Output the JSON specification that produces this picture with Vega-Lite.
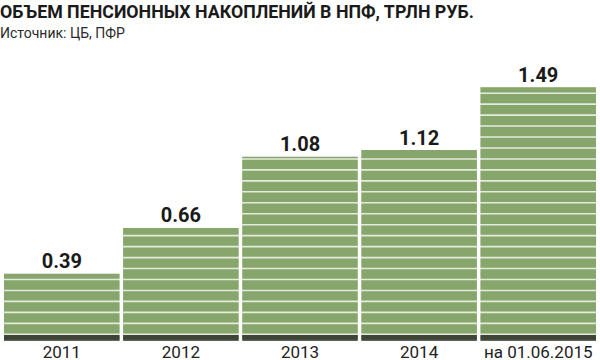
{
  "$schema": "https://vega.github.io/schema/vega-lite/v6.json",
  "width": 592,
  "height": 281,
  "autosize": {"type": "none"},
  "padding": {"left": 4, "top": 60, "right": 4, "bottom": 19},
  "background": "white",
  "title": {
    "text": "ОБЪЕМ ПЕНСИОННЫХ НАКОПЛЕНИЙ В НПФ, ТРЛН РУБ.",
    "subtitle": "Источник: ЦБ, ПФР",
    "anchor": "start",
    "frame": "group",
    "dx": -4,
    "dy": 29,
    "offset": 18,
    "font": "Roboto",
    "fontSize": 17.8,
    "fontWeight": "bold",
    "color": "#1a1a1a",
    "subtitleFont": "Roboto",
    "subtitleFontSize": 14,
    "subtitleColor": "#2a2a2a",
    "subtitlePadding": 5
  },
  "config": {"view": {"stroke": null}},
  "data": {
    "values": [
      {"period": "2011", "value": 0.39},
      {"period": "2012", "value": 0.66},
      {"period": "2013", "value": 1.08},
      {"period": "2014", "value": 1.12},
      {"period": "на 01.06.2015", "value": 1.49}
    ]
  },
  "encoding": {
    "x": {
      "field": "period",
      "type": "nominal",
      "sort": null,
      "scale": {"paddingInner": 0.03, "paddingOuter": 0},
      "axis": {
        "title": null,
        "domain": false,
        "ticks": false,
        "labelAngle": 0,
        "labelFont": "Roboto",
        "labelFontSize": 17,
        "labelColor": "#222222",
        "labelPadding": 3,
        "labelLimit": 0,
        "labelOverlap": false,
        "labelBound": false
      }
    }
  },
  "layer": [
    {
      "mark": {"type": "bar", "color": "#e4eadc"},
      "encoding": {
        "y": {
          "field": "value",
          "type": "quantitative",
          "scale": {"domain": [-0.00708, 1.6512], "nice": false, "zero": false},
          "axis": null
        }
      }
    },
    {
      "mark": {
        "type": "rule",
        "color": "#87a66b",
        "strokeWidth": 115.54,
        "strokeDash": [9.36, 1.6],
        "strokeDashOffset": {"expr": "15.66 - 169.45 * datum.value"},
        "strokeCap": "butt"
      },
      "encoding": {
        "y": {"field": "value", "type": "quantitative"},
        "y2": {"datum": 0}
      }
    },
    {
      "mark": {"type": "tick", "color": "#1e1e1e", "size": 115.54, "thickness": 6.1, "orient": "horizontal"},
      "encoding": {
        "y": {"datum": 0.0109, "type": "quantitative"}
      }
    },
    {
      "mark": {
        "type": "text",
        "font": "Roboto",
        "fontSize": 20,
        "fontWeight": "bold",
        "color": "#1a1a1a",
        "baseline": "alphabetic",
        "align": "center",
        "dy": -5.5
      },
      "encoding": {
        "y": {"field": "value", "type": "quantitative"},
        "text": {"field": "value", "type": "quantitative", "format": ".2f"}
      }
    }
  ]
}
